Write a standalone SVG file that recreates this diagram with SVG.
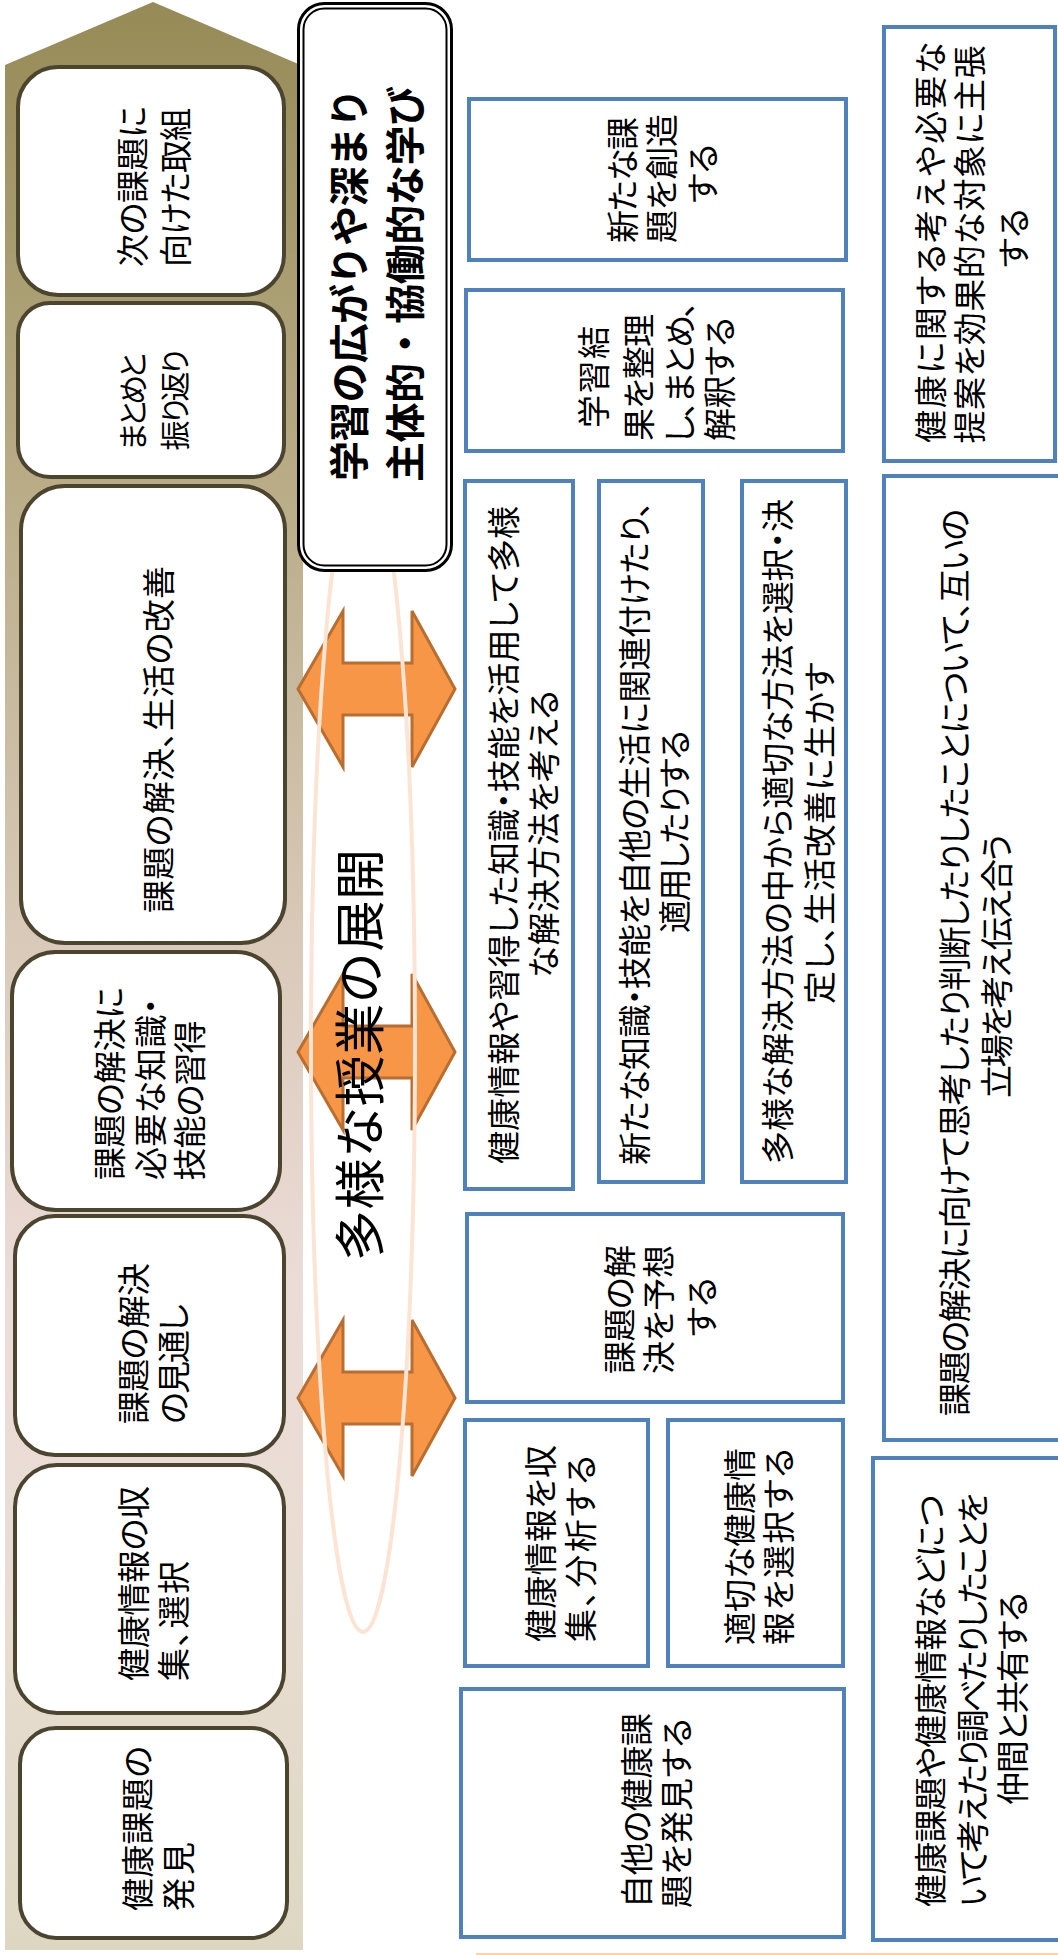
<svg xmlns="http://www.w3.org/2000/svg" width="1058" height="1955" viewBox="0 0 1058 1955">
<defs>
<linearGradient id="bg" x1="0" y1="0" x2="0" y2="1950" gradientUnits="userSpaceOnUse">
<stop offset="0" stop-color="#968A56"/>
<stop offset="0.25" stop-color="#B9AC87"/>
<stop offset="0.46" stop-color="#D6C7B5"/>
<stop offset="0.66" stop-color="#ECDCD8"/>
<stop offset="0.82" stop-color="#E8DDD2"/>
<stop offset="1" stop-color="#DDD7C2"/>
</linearGradient>
<style>
.stage{fill:#fff;stroke:#4B4530;stroke-width:4}
.blue{fill:#fff;stroke:#4F81BD;stroke-width:4}
.arrow{fill:#F79646;stroke:#B86D31;stroke-width:3}
text{font-family:"Noto Sans CJK JP","Noto Sans",sans-serif;font-size:33px;fill:#000;dominant-baseline:central;text-anchor:middle;font-feature-settings:"palt"}
.mono{font-feature-settings:normal}
.title{font-size:40px;font-weight:bold}
.big{font-size:51px}
.small{font-size:30px}
</style>
</defs>

<g id="background">
<polygon points="5,65 153,2 303,66 303,1950 5,1950" fill="url(#bg)"/>
</g>

<g id="stage-1">
<rect class="stage" x="18" y="67" width="266" height="228" rx="40"/>
<text transform="translate(131,186.5) rotate(-90)" textLength="161" lengthAdjust="spacing">次の課題に</text>
<text transform="translate(174,187.5) rotate(-90)" textLength="159" lengthAdjust="spacing">向けた取組</text>
</g>
<g id="stage-2">
<rect class="stage" x="18" y="303" width="266" height="174" rx="32"/>
<text class="small" transform="translate(131,402) rotate(-90)" textLength="98" lengthAdjust="spacing">まとめと</text>
<text class="small" transform="translate(173,400) rotate(-90)" textLength="101" lengthAdjust="spacing">振り返り</text>
</g>
<g id="stage-3">
<rect class="stage" x="21" y="486" width="264" height="457" rx="44"/>
<text transform="translate(157,739.5) rotate(-90)" textLength="347" lengthAdjust="spacing">課題の解決、生活の改善</text>
</g>
<g id="stage-4">
<rect class="stage" x="12" y="952" width="268" height="258" rx="44"/>
<text transform="translate(108,1083.5) rotate(-90)" textLength="193" lengthAdjust="spacing">課題の解決に</text>
<text transform="translate(149,1089) rotate(-90)" textLength="182" lengthAdjust="spacing">必要な知識・</text>
<text transform="translate(188,1100.5) rotate(-90)" textLength="160" lengthAdjust="spacing">技能の習得</text>
</g>
<g id="stage-5">
<rect class="stage" x="15" y="1216" width="269" height="239" rx="40"/>
<text transform="translate(132,1343.5) rotate(-90)" textLength="161" lengthAdjust="spacing">課題の解決</text>
<text transform="translate(172,1364) rotate(-90)" textLength="120" lengthAdjust="spacing">の見通し</text>
</g>
<g id="stage-6">
<rect class="stage" x="15" y="1465" width="269" height="248" rx="42"/>
<text transform="translate(132,1583.5) rotate(-90)" textLength="195" lengthAdjust="spacing">健康情報の収</text>
<text transform="translate(172,1621) rotate(-90)" textLength="120" lengthAdjust="spacing">集、選択</text>
</g>
<g id="stage-7">
<rect class="stage" x="20" y="1728" width="267" height="210" rx="36"/>
<text transform="translate(136,1828.5) rotate(-90)" textLength="165" lengthAdjust="spacing">健康課題の</text>
<text transform="translate(177,1876.5) rotate(-90)" textLength="69" lengthAdjust="spacing">発見</text>
</g>

<g id="connectors">
<polygon class="arrow" points="298,689 343,611 343,663 412,663 412,611 455,689 412,767 412,715 343,715 343,767"/>
<polygon class="arrow" points="298,1052 343,974 343,1026 412,1026 412,974 455,1052 412,1130 412,1078 343,1078 343,1130"/>
<polygon class="arrow" points="298,1398 343,1320 343,1372 412,1372 412,1320 455,1398 412,1476 412,1424 343,1424 343,1476"/>
</g>

<g id="ellipse">
<ellipse cx="363" cy="1045" rx="52" ry="587" fill="none" stroke="#FCE4D4" stroke-width="4"/>
</g>

<g id="goal">
<rect x="298.5" y="3.5" width="153" height="567" rx="26" fill="#fff" stroke="#000" stroke-width="3"/>
<rect x="303.5" y="8.5" width="143" height="557" rx="21" fill="none" stroke="#000" stroke-width="2"/>
<text class="title mono" transform="translate(347,284.5) rotate(-90)" textLength="393" lengthAdjust="spacing">学習の広がりや深まり</text>
<text class="title mono" transform="translate(403,284) rotate(-90)" textLength="396" lengthAdjust="spacing">主体的・協働的な学び</text>
</g>

<g id="label">
<text class="big mono" transform="translate(357,1055) rotate(-90)" textLength="412" lengthAdjust="spacing">多様な授業の展開</text>
</g>

<g id="box-create">
<rect class="blue" x="469" y="99" width="377" height="161"/>
<text transform="translate(621,180) rotate(-90)" textLength="126" lengthAdjust="spacing">新たな課</text>
<text transform="translate(660,178.5) rotate(-90)" textLength="129" lengthAdjust="spacing">題を創造</text>
<text transform="translate(701,173.5) rotate(-90)">する</text>
</g>
<g id="box-organize">
<rect class="blue" x="466" y="290" width="377" height="161"/>
<text transform="translate(592,377) rotate(-90)" textLength="102" lengthAdjust="spacing">学習結</text>
<text transform="translate(637,377.5) rotate(-90)" textLength="127" lengthAdjust="spacing">果を整理</text>
<text transform="translate(678,372) rotate(-90)" textLength="142" lengthAdjust="spacing">し、まとめ、</text>
<text transform="translate(718,379) rotate(-90)" textLength="124" lengthAdjust="spacing">解釈する</text>
</g>
<g id="box-propose">
<rect class="blue" x="884" y="27" width="171" height="434"/>
<text transform="translate(929,242.5) rotate(-90)" textLength="401" lengthAdjust="spacing">健康に関する考えや必要な</text>
<text transform="translate(968,244.5) rotate(-90)" textLength="398" lengthAdjust="spacing">提案を効果的な対象に主張</text>
<text transform="translate(1012,238) rotate(-90)">する</text>
</g>
<g id="box-apply-knowledge">
<rect class="blue" x="465" y="481" width="108" height="708"/>
<text transform="translate(502,835) rotate(-90)" textLength="658" lengthAdjust="spacing">健康情報や習得した知識・技能を活用して多様</text>
<text transform="translate(542,834) rotate(-90)" textLength="288" lengthAdjust="spacing">な解決方法を考える</text>
</g>
<g id="box-relate">
<rect class="blue" x="599" y="481" width="104" height="701"/>
<text transform="translate(633,833) rotate(-90)" textLength="664" lengthAdjust="spacing">新たな知識・技能を自他の生活に関連付けたり、</text>
<text transform="translate(673,831.5) rotate(-90)" textLength="203" lengthAdjust="spacing">適用したりする</text>
</g>
<g id="box-choose">
<rect class="blue" x="742" y="481" width="104" height="701"/>
<text transform="translate(776,831.5) rotate(-90)" textLength="665" lengthAdjust="spacing">多様な解決方法の中から適切な方法を選択・決</text>
<text transform="translate(818,833) rotate(-90)" textLength="342" lengthAdjust="spacing">定し、生活改善に生かす</text>
</g>
<g id="box-communicate">
<rect class="blue" x="884" y="476" width="180" height="964"/>
<text transform="translate(953,962.5) rotate(-90)" textLength="907" lengthAdjust="spacing">課題の解決に向けて思考したり判断したりしたことについて、互いの</text>
<text transform="translate(995,966) rotate(-90)" textLength="264" lengthAdjust="spacing">立場を考え伝え合う</text>
</g>
<g id="box-predict">
<rect class="blue" x="467" y="1214" width="376" height="188"/>
<text transform="translate(618,1309.5) rotate(-90)" textLength="129" lengthAdjust="spacing">課題の解</text>
<text transform="translate(657,1309.5) rotate(-90)" textLength="129" lengthAdjust="spacing">決を予想</text>
<text transform="translate(700,1307) rotate(-90)">する</text>
</g>
<g id="box-collect">
<rect class="blue" x="465" y="1420" width="183" height="246"/>
<text transform="translate(539,1543.5) rotate(-90)" textLength="197" lengthAdjust="spacing">健康情報を収</text>
<text transform="translate(579,1548.5) rotate(-90)" textLength="187" lengthAdjust="spacing">集、分析する</text>
</g>
<g id="box-select">
<rect class="blue" x="668" y="1420" width="175" height="246"/>
<text transform="translate(738,1546.5) rotate(-90)" textLength="197" lengthAdjust="spacing">適切な健康情</text>
<text transform="translate(777,1546.5) rotate(-90)" textLength="197" lengthAdjust="spacing">報を選択する</text>
</g>
<g id="box-discover">
<rect class="blue" x="461" y="1689" width="383" height="248"/>
<text transform="translate(635,1810.5) rotate(-90)" textLength="195" lengthAdjust="spacing">自他の健康課</text>
<text transform="translate(675,1813) rotate(-90)" textLength="190" lengthAdjust="spacing">題を発見する</text>
</g>
<g id="box-share">
<rect class="blue" x="873" y="1458" width="190" height="482"/>
<text transform="translate(929,1701) rotate(-90)" textLength="412" lengthAdjust="spacing">健康課題や健康情報などにつ</text>
<text transform="translate(971,1700) rotate(-90)" textLength="414" lengthAdjust="spacing">いて考えたり調べたりしたことを</text>
<text transform="translate(1011,1698.5) rotate(-90)" textLength="213" lengthAdjust="spacing">仲間と共有する</text>
</g>

<g id="edge-line">
<line x1="476" y1="1954" x2="1058" y2="1954" stroke="#FAD3B4" stroke-width="2"/>
</g>
</svg>
